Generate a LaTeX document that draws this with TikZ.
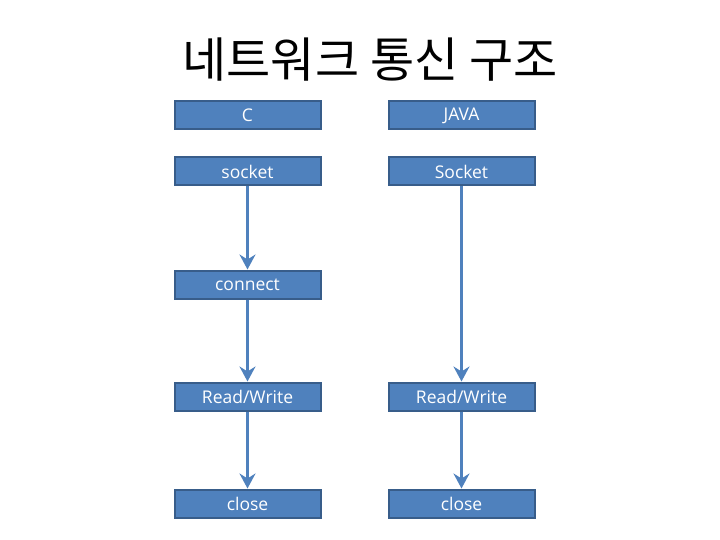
\documentclass[tikz,border=0pt]{standalone}
\usepackage{fontspec}
\setmainfont{Noto Sans CJK KR}
\newfontfamily\boxfont{Open Sans}
\usetikzlibrary{arrows.meta}
\definecolor{boxfill}{HTML}{4F81BD}
\definecolor{boxline}{HTML}{385D8A}
\tikzset{
  stepbox/.style={draw=boxline, line width=2pt, fill=boxfill, minimum width=146pt, minimum height=28pt, inner sep=0pt, text=white, font=\boxfont\fontsize{17.5}{19}\selectfont},
  flow/.style={draw=boxfill, line width=3.5pt, -{Stealth[length=15pt,width=16pt,inset=5pt]}},
}
\begin{document}
\begin{tikzpicture}[x=1pt,y=-1pt]
\useasboundingbox (0,0) rectangle (720,540);
\node (title) at (370,60) {\fontsize{48}{54}\selectfont 네트워크 통신 구조};
\node[stepbox] (c) at (247.5,115.5) {C};
\node[stepbox] (java) at (461.5,115.5) {JAVA};
\node[stepbox] (sockl) at (247.5,171.5) {socket};
\node[stepbox] (sockr) at (461.5,171.5) {Socket};
\node[stepbox] (conn) at (247.5,284.5) {connect};
\node[stepbox] (rwl) at (247.5,396.5) {Read/Write};
\node[stepbox] (rwr) at (461.5,396.5) {Read/Write};
\node[stepbox] (closel) at (247.5,503.5) {close};
\node[stepbox] (closer) at (461.5,503.5) {close};
\draw[flow] (sockl) -- (conn);
\draw[flow] (conn) -- (rwl);
\draw[flow] (rwl) -- (closel);
\draw[flow] (sockr) -- (rwr);
\draw[flow] (rwr) -- (closer);
\end{tikzpicture}
\end{document}
